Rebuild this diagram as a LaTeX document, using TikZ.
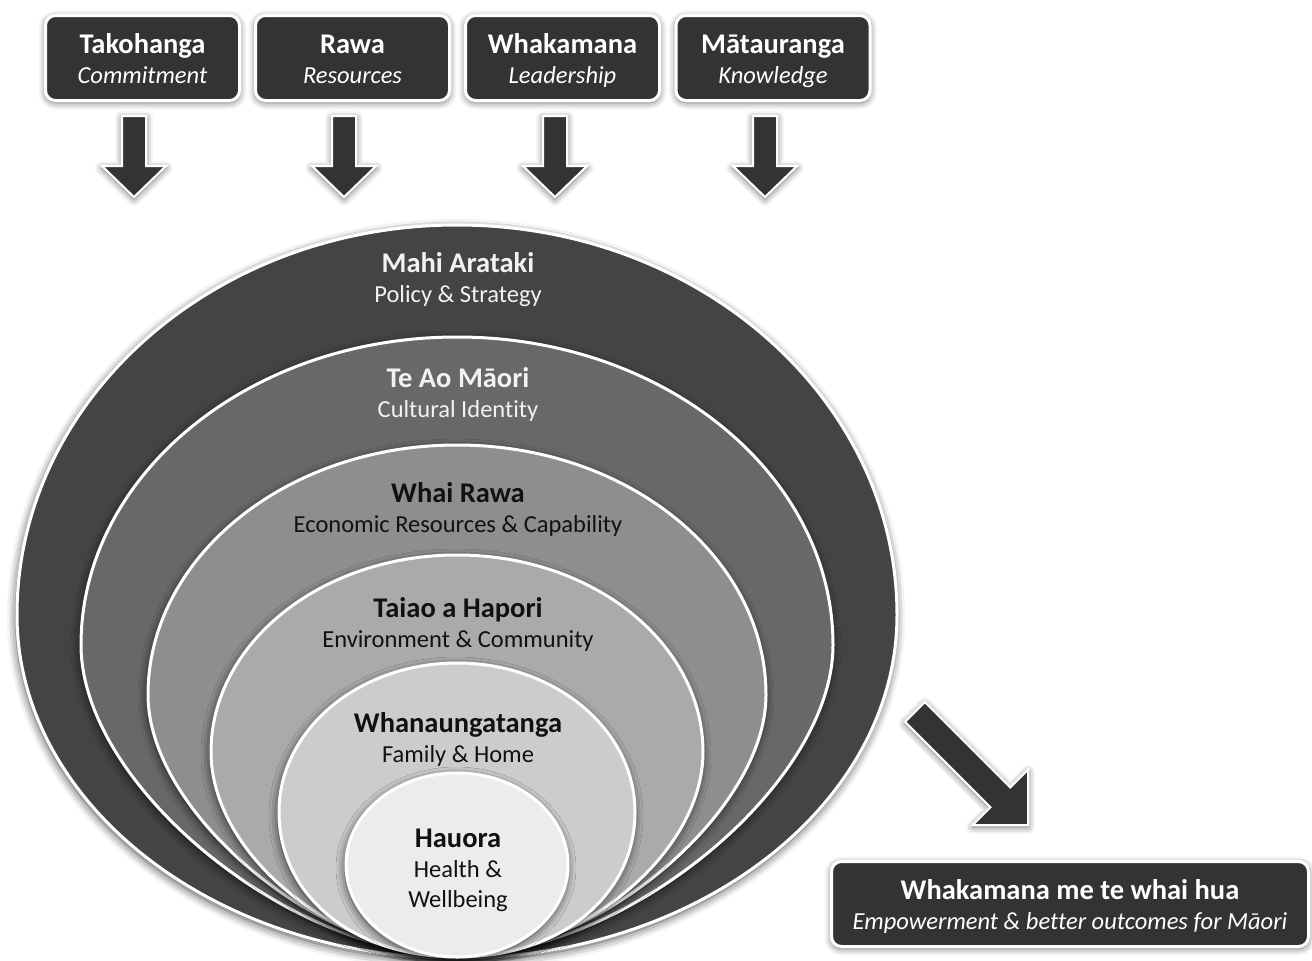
\documentclass[tikz,border=0pt]{standalone}
\usepackage{fontspec}
\setmainfont{Carlito}[Ligatures=NoCommon]
\usetikzlibrary{shadows.blur}
\definecolor{boxdark}{HTML}{333333}
\definecolor{ringA}{HTML}{444444}
\definecolor{ringB}{HTML}{686868}
\definecolor{ringC}{HTML}{8E8E8E}
\definecolor{ringD}{HTML}{AAAAAA}
\definecolor{ringE}{HTML}{CCCCCC}
\definecolor{ringF}{HTML}{ECECEC}
\definecolor{darktext}{HTML}{111111}
\definecolor{lighttext}{HTML}{F2F2F2}
\newcommand{\rtitle}{\fontsize{28.5}{30}\selectfont\bfseries}
\newcommand{\rsub}{\fontsize{24.5}{30}\selectfont}
\tikzset{
  softshadow/.style={blur shadow={shadow xshift=0pt, shadow yshift=-2pt, shadow blur radius=7pt, shadow opacity=60}},
  ringshadow/.style={blur shadow={shadow xshift=-1pt, shadow yshift=-3pt, shadow blur radius=9pt, shadow opacity=75}},
  ringstyle/.style={draw=white, line width=3pt, ringshadow},
  topbox/.style={rounded corners=10pt, fill=boxdark, draw=white, line width=3pt,
    minimum width=194pt, minimum height=85pt, inner sep=0pt, softshadow},
  boxtext/.style={text=white, align=center, inner sep=0pt, font=\rsub},
  blockarrow/.style={fill=boxdark, draw=white, line width=2pt, line join=miter, softshadow},
  ringlabel/.style={align=center, inner sep=0pt, font=\rsub},
}
% egg-shaped ring: cx, rx, top, cy, bottom, kb, colour
\newcommand{\eggring}[7]{%
  \path[ringstyle, fill=#7]
    ({#1-#2},#4) .. controls ({#1-#2},{#4-0.5523*(#4-#3)}) and ({#1-0.5523*#2},#3) .. (#1,#3)
    .. controls ({#1+0.5523*#2},#3) and ({#1+#2},{#4-0.5523*(#4-#3)}) .. ({#1+#2},#4)
    .. controls ({#1+#2},{#4+#6*(#5-#4)}) and ({#1+#6*#2},#5) .. (#1,#5)
    .. controls ({#1-#6*#2},#5) and ({#1-#2},{#4+#6*(#5-#4)}) .. ({#1-#2},#4) -- cycle;}
% downward block arrow centred at x=#1
\newcommand{\downblock}[1]{%
  \path[blockarrow] ({#1-12},116) -- ({#1+12},116) -- ({#1+12},166) -- ({#1+32},166)
    -- (#1,197) -- ({#1-32},166) -- ({#1-12},166) -- cycle;}
\newcommand{\twol}[2]{{\rtitle\strut #1}\\\strut #2}
\begin{document}
\begin{tikzpicture}[x=1pt,y=-1pt]
\useasboundingbox (0,0) rectangle (1312,961);

% nested rings
\eggring{457}{440}{225}{615}{958}{0.55}{ringA}
\eggring{457}{376}{337}{645}{955}{0.45}{ringB}
\eggring{457}{309}{445}{695}{955}{0.45}{ringC}
\eggring{457}{246}{555}{752}{955}{0.50}{ringD}
\eggring{457}{178}{663}{812}{957}{0.58}{ringE}
\eggring{457}{111}{773}{865}{957}{0.55}{ringF}

% ring labels
\node[ringlabel, text=lighttext] (mahi) at (458,281) {\twol{Mahi Arataki}{Policy \& Strategy}};
\node[ringlabel, text=lighttext] (teao) at (458,396) {\twol{Te Ao Māori}{Cultural Identity}};
\node[ringlabel, text=darktext] (whairawa) at (458,511) {\twol{Whai Rawa}{Economic Resources \& Capability}};
\node[ringlabel, text=darktext] (taiao) at (458,626) {\twol{Taiao a Hapori}{Environment \& Community}};
\node[ringlabel, text=darktext] (whanau) at (458,741) {\twol{Whanaungatanga}{Family \& Home}};
\node[ringlabel, text=darktext] (hauora) at (458,871) {\twol{Hauora}{Health \&}\\\strut Wellbeing};

% top boxes
\node[topbox] (takohanga) at (142.5,58) {};
\node[topbox] (rawa) at (352.5,58) {};
\node[topbox] (whakamana) at (562.5,58) {};
\node[topbox] (matauranga) at (773,58) {};
\node[boxtext] (takohanga-t) at ([yshift=-4.2pt]takohanga.center) {\twol{Takohanga}{\textit{Commitment}}};
\node[boxtext] (rawa-t) at ([yshift=-4.2pt]rawa.center) {\twol{Rawa}{\textit{Resources}}};
\node[boxtext] (whakamana-t) at ([yshift=-4.2pt]whakamana.center) {\twol{Whakamana}{\textit{Leadership}}};
\node[boxtext] (matauranga-t) at ([yshift=-4.2pt]matauranga.center) {\twol{Mātauranga}{\textit{Knowledge}}};

% down arrows
\downblock{134}
\downblock{344}
\downblock{555}
\downblock{765}

% diagonal arrow
\path[blockarrow] (924.9,702.1) -- (1010.3,787.5) -- (1028,769.8) -- (1028,825)
  -- (972.8,825) -- (990.5,807.3) -- (905.1,721.9) -- cycle;

% outcome box
\node[topbox, minimum width=477pt] (outcome) at (1070,904) {};
\node[boxtext] (outcome-t) at ([yshift=-4.2pt]outcome.center)
  {\twol{Whakamana me te whai hua}{\textit{Empowerment \& better outcomes for Māori}}};
\end{tikzpicture}
\end{document}
